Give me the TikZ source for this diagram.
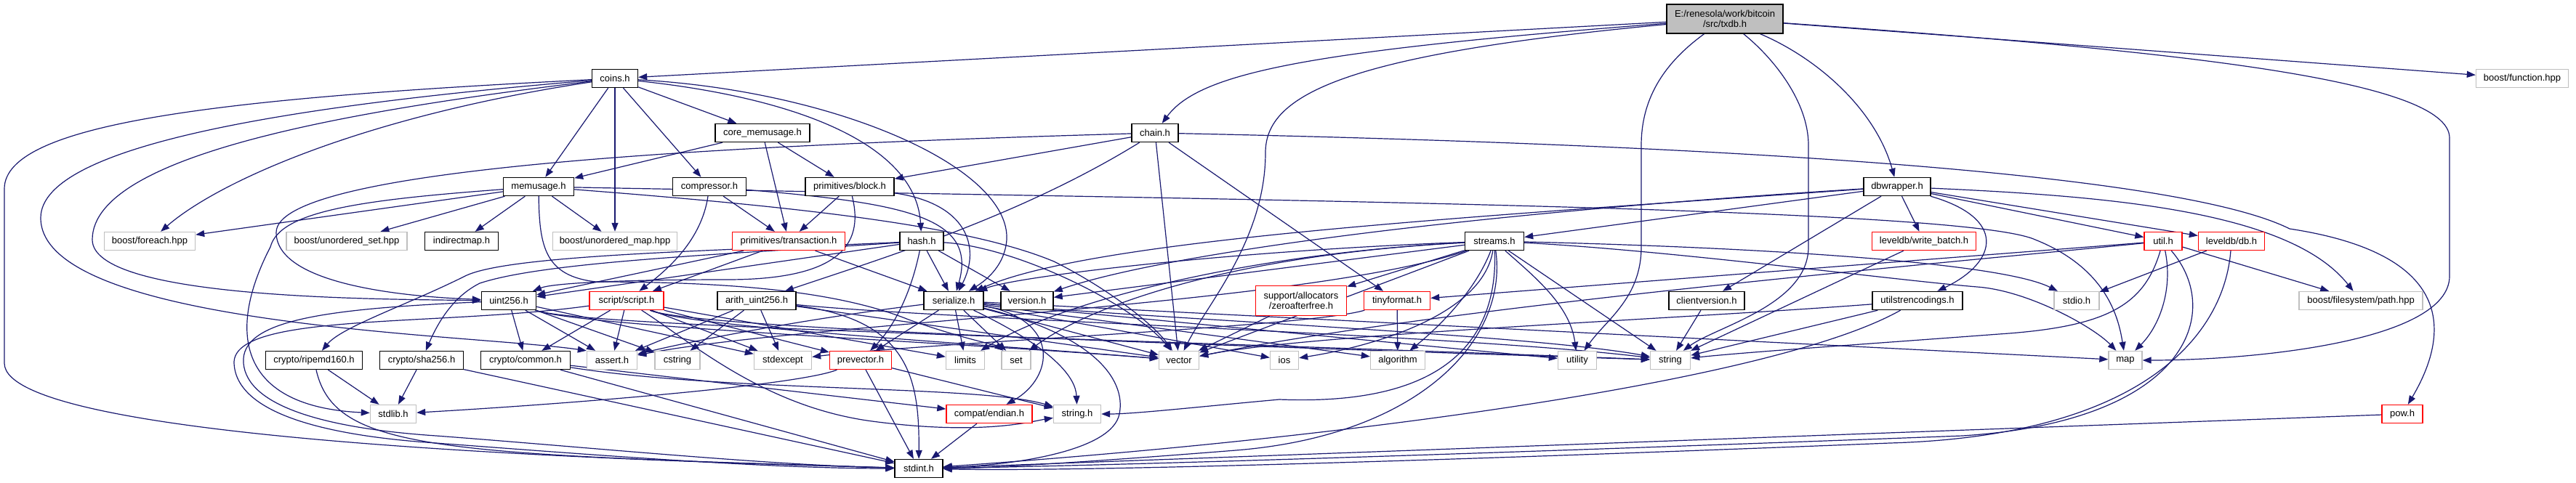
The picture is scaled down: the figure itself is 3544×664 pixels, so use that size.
\documentclass[tikz,border=0pt]{standalone}
\usepackage{fontspec}
\setmainfont{Liberation Sans}
\usetikzlibrary{arrows.meta}
\definecolor{edgec}{HTML}{191970}
\definecolor{extc}{HTML}{BFBFBF}
\definecolor{redc}{HTML}{FF0000}
\pgfdeclarelayer{bglayer}
\pgfdeclarelayer{edgelayer}
\pgfsetlayers{bglayer,edgelayer,main}
\begin{document}
\begin{tikzpicture}[x=0.5pt,y=-0.5pt,
  box/.style={rectangle, inner sep=0pt, minimum height=12.5pt, line width=0.7pt,
    font=\fontsize{6.5pt}{7pt}\selectfont, align=center, fill=white},
  doc/.style={box, draw=black},
  ext/.style={box, draw=extc},
  trunc/.style={box, draw=redc},
  e/.style={draw=edgec, line width=0.6pt, -{Triangle[length=6pt,width=4.5pt]}}]
\begin{pgfonlayer}{bglayer}
\useasboundingbox[fill=white] (0,0) rectangle (3544,664);
\end{pgfonlayer}

% ---------- nodes ----------
\node[doc, fill=extc, minimum width=80pt, minimum height=20pt] (txdb) at (2373,26) {E:/renesola/work/bitcoin\\/src/txdb.h};
\node[doc, minimum width=31.5pt] (coins) at (846,108) {coins.h};
\node[ext, minimum width=63.5pt] (boostfunction) at (3470,108) {boost/function.hpp};
\node[doc, minimum width=65pt] (coremem) at (1049,183) {core\_memusage.h};
\node[doc, minimum width=32pt] (chain) at (1589,183) {chain.h};
\node[doc, minimum width=48.5pt] (memusage) at (741,257) {memusage.h};
\node[doc, minimum width=50.5pt] (compressor) at (976,257) {compressor.h};
\node[doc, minimum width=61pt] (block) at (1169,257) {primitives/block.h};
\node[doc, minimum width=46pt] (dbwrapper) at (2610,257) {dbwrapper.h};
\node[ext, minimum width=62.5pt] (foreach) at (206,332) {boost/foreach.hpp};
\node[ext, minimum width=83pt] (uset) at (477,332) {boost/unordered\_set.hpp};
\node[doc, minimum width=50.5pt] (indirectmap) at (635,332) {indirectmap.h};
\node[ext, minimum width=85.5pt] (umap) at (846,332) {boost/unordered\_map.hpp};
\node[trunc, minimum width=77.5pt] (transaction) at (1085,332) {primitives/transaction.h};
\node[doc, minimum width=30pt] (hash) at (1268,332) {hash.h};
\node[doc, minimum width=40.5pt] (streams) at (2056,332) {streams.h};
\node[trunc, minimum width=71.5pt] (writebatch) at (2647,332) {leveldb/write\_batch.h};
\node[trunc, minimum width=26pt] (util) at (2976,332) {util.h};
\node[trunc, minimum width=45.5pt] (db) at (3070,332) {leveldb/db.h};
\node[doc, minimum width=37.5pt] (uint256) at (700,414) {uint256.h};
\node[trunc, minimum width=51pt] (script) at (862,414) {script/script.h};
\node[doc, minimum width=54pt] (arith) at (1041,414) {arith\_uint256.h};
\node[doc, minimum width=41pt] (serialize) at (1312,414) {serialize.h};
\node[doc, minimum width=36pt] (version) at (1413,414) {version.h};
\node[trunc, minimum width=62.5pt, minimum height=20.5pt] (zeroafterfree) at (1790,414) {support/allocators\\/zeroafterfree.h};
\node[trunc, minimum width=45.5pt] (tinyformat) at (1922,414) {tinyformat.h};
\node[doc, minimum width=52pt] (clientversion) at (2348,414) {clientversion.h};
\node[doc, minimum width=62pt] (utilstrencodings) at (2638,414) {utilstrencodings.h};
\node[ext, minimum width=31pt] (stdio) at (2857,414) {stdio.h};
\node[ext, minimum width=85pt] (fspath) at (3248,414) {boost/filesystem/path.hpp};
\node[doc, minimum width=66.5pt] (ripemd) at (432,496) {crypto/ripemd160.h};
\node[doc, minimum width=57.5pt] (sha256) at (580,496) {crypto/sha256.h};
\node[doc, minimum width=61.5pt] (common) at (723,496) {crypto/common.h};
\node[ext, minimum width=34.5pt] (assert) at (842,496) {assert.h};
\node[ext, minimum width=31pt] (cstring) at (932,496) {cstring};
\node[ext, minimum width=39.5pt] (stdexcept) at (1077,496) {stdexcept};
\node[trunc, minimum width=42.5pt] (prevector) at (1184,496) {prevector.h};
\node[ext, minimum width=26.5pt] (limits) at (1328,496) {limits};
\node[ext, minimum width=20pt] (set) at (1398,496) {set};
\node[ext, minimum width=27.5pt] (vector) at (1622,496) {vector};
\node[ext, minimum width=19.5pt] (ios) at (1767,496) {ios};
\node[ext, minimum width=37.5pt] (algorithm) at (1923,496) {algorithm};
\node[ext, minimum width=26.5pt] (utility) at (2170,496) {utility};
\node[ext, minimum width=27.5pt] (string) at (2298,496) {string};
\node[ext, minimum width=23pt] (map) at (2924,496) {map};
\node[ext, minimum width=31.5pt] (stdlib) at (541,570) {stdlib.h};
\node[trunc, minimum width=59pt] (endian) at (1361,570) {compat/endian.h};
\node[ext, minimum width=32.5pt] (stringh) at (1482,570) {string.h};
\node[trunc, minimum width=28pt] (pow) at (3305,570) {pow.h};
\node[doc, minimum width=33pt] (stdint) at (1264,645) {stdint.h};

% ---------- edges ----------
\begin{pgfonlayer}{edgelayer}
% txdb
\draw[e] (txdb) -- (coins);
\draw[e] (txdb) .. controls (1800,70) and (1650,100) .. (chain);
\draw[e] (txdb) .. controls (1850,75) and (1741,130) .. (1741,210) .. controls (1741,330) and (1660,420) .. (vector);
\draw[e] (txdb) .. controls (2285,90) and (2258,140) .. (2258,200) -- (2258,340) .. controls (2258,410) and (2210,440) .. (utility);
\draw[e] (txdb) .. controls (2440,80) and (2488,140) .. (2488,200) -- (2488,340) .. controls (2488,420) and (2360,450) .. (string);
\draw[e] (txdb) .. controls (2500,80) and (2580,150) .. (dbwrapper);
\draw[e] (txdb) -- (boostfunction);
\draw[e] (txdb) .. controls (3000,70) and (3370,110) .. (3370,190) -- (3370,380) .. controls (3370,470) and (3100,496) .. (map);
% coins
\draw[e] (coins) -- (memusage);
\draw[e] (coins) -- (umap);
\draw[e] (coins) -- (compressor);
\draw[e] (coins) -- (coremem);
\draw[e] (coins) .. controls (1100,135) and (1260,200) .. (hash);
\draw[e] (coins) .. controls (1150,125) and (1390,230) .. (1385,330) .. controls (1382,370) and (1350,390) .. (serialize);
\draw[e] (coins) .. controls (500,160) and (300,250) .. (foreach);
\draw[e] (coins) .. controls (500,150) and (127,210) .. (127,330) .. controls (127,410) and (500,412) .. (uint256);
\draw[e] (coins) .. controls (400,145) and (56,200) .. (56,300) .. controls (56,450) and (650,460) .. (assert.north west);
\draw[e] (coins) .. controls (300,135) and (6,170) .. (6,260) -- (6,500) .. controls (6,610) and (900,635) .. (stdint);
% core_memusage
\draw[e] (coremem) -- (block);
\draw[e] (coremem) -- (transaction);
\draw[e] (coremem) -- (memusage);
% memusage
\draw[e] (memusage) -- (foreach);
\draw[e] (memusage) -- (uset);
\draw[e] (memusage) -- (indirectmap);
\draw[e] (memusage) -- (umap);
\draw[e] (memusage) .. controls (500,275) and (385,290) .. (372,340) .. controls (310,460) and (330,560) .. (stdlib);
\draw[e] (memusage) .. controls (1700,275) and (2700,285) .. (2800,330) .. controls (2900,370) and (2915,440) .. (map);
\draw[e] (memusage) .. controls (742,340) and (750,380) .. (820,388) .. controls (1000,388) and (1150,400) .. (1250,440) .. controls (1320,465) and (1370,475) .. (set);
\draw[e] (memusage) .. controls (1100,285) and (1330,310) .. (1450,360) .. controls (1530,400) and (1590,450) .. (vector);
% compressor
\draw[e] (compressor) -- (transaction);
\draw[e] (compressor) .. controls (965,330) and (920,370) .. (script);
\draw[e] (compressor) .. controls (1250,280) and (1345,300) .. (serialize);
% chain
\draw[e] (chain) -- (block);
\draw[e] (chain) .. controls (1400,300) and (1200,360) .. (arith);
\draw[e] (chain) -- (vector);
\draw[e] (chain) -- (tinyformat);
\draw[e] (chain) .. controls (2400,200) and (3000,240) .. (3150,315) .. controls (3380,350) and (3370,460) .. (pow);
\draw[e] (chain) .. controls (1000,200) and (380,230) .. (380,320) .. controls (380,400) and (600,410) .. (uint256);
% primitives/block
\draw[e] (block) -- (transaction);
\draw[e] (block) .. controls (1330,280) and (1350,340) .. (serialize);
\draw[e] (block) .. controls (1190,340) and (1150,385) .. (1000,385) .. controls (850,385) and (760,390) .. (uint256);
% primitives/transaction
\draw[e] (transaction) -- (script);
\draw[e] (transaction) -- (serialize);
\draw[e] (transaction) -- (uint256);
% hash
\draw[e] (hash) .. controls (1000,345) and (700,350) .. (640,380) .. controls (560,420) and (470,450) .. (ripemd);
\draw[e] (hash) .. controls (1000,350) and (750,360) .. (660,390) .. controls (620,410) and (600,450) .. (sha256);
\draw[e] (hash) .. controls (1250,420) and (1220,460) .. (prevector);
\draw[e] (hash) -- (serialize);
\draw[e] (hash) -- (uint256);
\draw[e] (hash) -- (version);
\draw[e] (hash) .. controls (1400,340) and (1560,420) .. (vector);
% dbwrapper
\draw[e] (dbwrapper) -- (clientversion);
\draw[e] (dbwrapper) .. controls (2000,300) and (1500,330) .. (serialize);
\draw[e] (dbwrapper) -- (streams);
\draw[e] (dbwrapper) -- (util);
\draw[e] (dbwrapper) .. controls (2760,300) and (2750,360) .. (utilstrencodings);
\draw[e] (dbwrapper) .. controls (2000,295) and (1600,350) .. (version);
\draw[e] (dbwrapper) .. controls (2900,270) and (3150,290) .. (fspath);
\draw[e] (dbwrapper) -- (db);
\draw[e] (dbwrapper) -- (writebatch);
% streams
\draw[e] (streams) -- (zeroafterfree);
\draw[e] (streams) .. controls (1700,345) and (1400,380) .. (serialize);
\draw[e] (streams) -- (version);
\draw[e] (streams) .. controls (2030,400) and (1980,450) .. (algorithm);
\draw[e] (streams) .. controls (1800,420) and (1100,445) .. (assert);
\draw[e] (streams) .. controls (2040,430) and (1900,475) .. (ios);
\draw[e] (streams) .. controls (1700,350) and (1450,420) .. (limits);
\draw[e] (streams) .. controls (2300,345) and (2600,385) .. (2720,395) .. controls (2790,400) and (2880,450) .. (map);
\draw[e] (streams) .. controls (1700,350) and (1500,420) .. (set);
\draw[e] (streams) .. controls (2075,470) and (1950,600) .. (1700,620) .. controls (1500,636) and (1350,645) .. (stdint);
\draw[e] (streams) .. controls (2400,340) and (2750,360) .. (stdio);
\draw[e] (streams) -- (string);
\draw[e] (streams) .. controls (2060,450) and (2010,560) .. (1760,550) .. controls (1650,560) and (1560,570) .. (stringh);
\draw[e] (streams) .. controls (2110,380) and (2160,420) .. (utility);
\draw[e] (streams) -- (vector);
% uint256
\draw[e] (uint256) -- (assert);
\draw[e] (uint256) -- (cstring);
\draw[e] (uint256) -- (stdexcept);
\draw[e] (uint256) .. controls (450,425) and (330,440) .. (335,500) .. controls (340,560) and (450,590) .. (600,600) .. controls (800,615) and (1050,640) .. (stdint);
\draw[e] (uint256) .. controls (800,450) and (1500,465) .. (string);
\draw[e] (uint256) .. controls (800,450) and (1300,470) .. (vector);
\draw[e] (uint256) -- (common);
% script/script
\draw[e] (script) -- (common);
\draw[e] (script) -- (prevector);
\draw[e] (script) -- (assert);
\draw[e] (script) -- (limits);
\draw[e] (script) -- (stdexcept);
\draw[e] (script) .. controls (600,450) and (320,430) .. (322,500) .. controls (325,570) and (450,600) .. (600,610) .. controls (800,625) and (1050,645) .. (stdint);
\draw[e] (script) .. controls (950,470) and (1050,560) .. (1200,580) .. controls (1350,600) and (1420,580) .. (stringh);
\draw[e] (script) .. controls (950,450) and (1500,470) .. (string);
\draw[e] (script) .. controls (950,450) and (1300,470) .. (vector);
% arith_uint256
\draw[e] (arith) -- (assert);
\draw[e] (arith) -- (cstring);
\draw[e] (arith) -- (stdexcept);
\draw[e] (arith) .. controls (1250,440) and (1265,520) .. (stdint);
\draw[e] (arith) .. controls (1300,440) and (2000,460) .. (string);
\draw[e] (arith) -- (vector);
% serialize
\draw[e] (serialize) .. controls (1460,440) and (1450,520) .. (endian);
\draw[e] (serialize) -- (prevector);
\draw[e] (serialize) -- (algorithm);
\draw[e] (serialize) .. controls (1100,440) and (950,470) .. (assert);
\draw[e] (serialize) -- (ios);
\draw[e] (serialize) -- (limits);
\draw[e] (serialize) -- (map);
\draw[e] (serialize) -- (set);
\draw[e] (serialize) .. controls (1500,460) and (1550,520) .. (1540,570) .. controls (1530,620) and (1400,640) .. (stdint);
\draw[e] (serialize) .. controls (1600,440) and (2100,460) .. (string);
\draw[e] (serialize) .. controls (1450,480) and (1480,520) .. (stringh);
\draw[e] (serialize) -- (utility);
\draw[e] (serialize) -- (vector);
% others
\draw[e] (tinyformat) -- (algorithm);
\draw[e] (tinyformat) .. controls (1800,450) and (1300,470) .. (stdexcept);
\draw[e] (zeroafterfree) -- (vector);
\draw[e] (clientversion) -- (string);
\draw[e] (utilstrencodings) .. controls (2450,520) and (1900,600) .. (stdint);
\draw[e] (utilstrencodings) -- (string);
\draw[e] (utilstrencodings) .. controls (2300,440) and (1800,460) .. (vector);
\draw[e] (util) -- (tinyformat);
\draw[e] (util) .. controls (2950,420) and (2900,450) .. (2750,460) .. controls (2550,475) and (2400,485) .. (string);
\draw[e] (util) .. controls (2990,400) and (2970,450) .. (map);
\draw[e] (util) .. controls (3060,430) and (3010,580) .. (2700,600) .. controls (2300,615) and (1600,640) .. (stdint);
\draw[e] (util) .. controls (2700,360) and (2000,420) .. (vector);
\draw[e] (util) -- (fspath);
\draw[e] (db) -- (stdio);
\draw[e] (db) .. controls (3060,460) and (2950,600) .. (2600,610) .. controls (2100,630) and (1500,650) .. (stdint);
\draw[e] (writebatch) -- (string);
\draw[e] (pow) -- (stdint);
\draw[e] (ripemd) -- (stdlib);
\draw[e] (ripemd) .. controls (460,620) and (600,625) .. (stdint);
\draw[e] (sha256) -- (stdlib);
\draw[e] (sha256) -- (stdint);
\draw[e] (common) -- (endian);
\draw[e] (common) -- (stdint);
\draw[e] (common) .. controls (1000,540) and (1350,530) .. (stringh);
\draw[e] (prevector) .. controls (1100,530) and (800,555) .. (stdlib);
\draw[e] (prevector) -- (stdint);
\draw[e] (prevector) -- (stringh);
\draw[e] (endian) -- (stdint);
\end{pgfonlayer}
\end{tikzpicture}
\end{document}
